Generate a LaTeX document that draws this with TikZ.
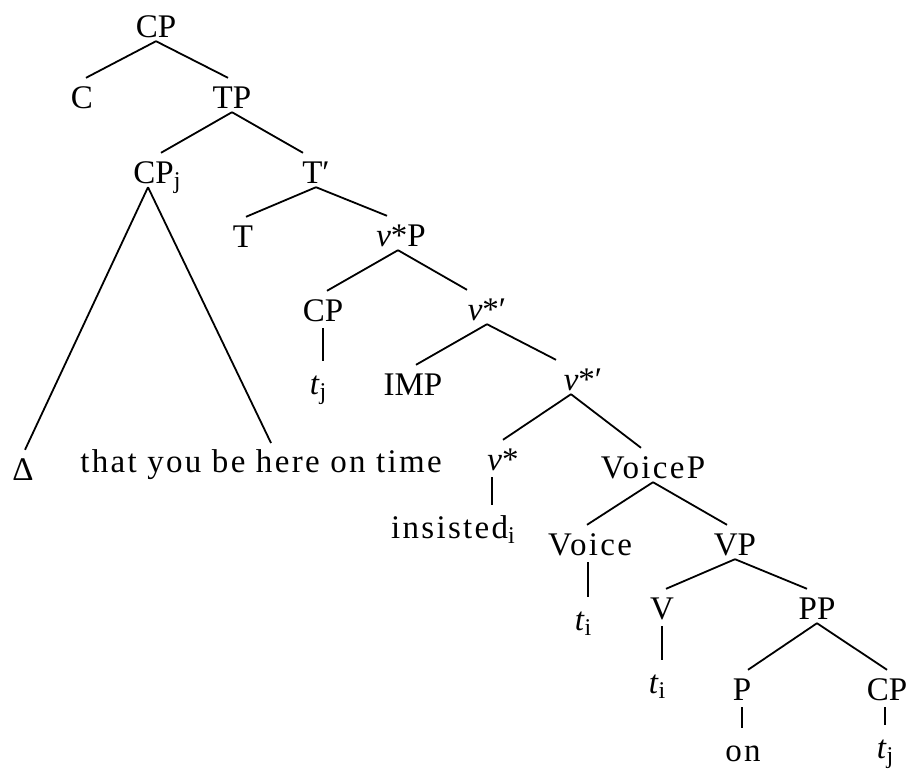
\documentclass[tikz,border=0pt]{standalone}
\usepackage{fontspec}
\setmainfont{Liberation Serif}
\newfontfamily\spacedfont[LetterSpace=7]{Liberation Serif}
\newcommand\lsub[1]{\raisebox{-5pt}{\fontsize{24}{24}\selectfont #1}}

\begin{document}
\begin{tikzpicture}[x=1pt,y=-1pt,font=\fontsize{33}{38}\selectfont,
 cat/.style={anchor=base,inner xsep=0pt,inner ysep=4pt,text height=26pt,text depth=0pt},
 word/.style={cat,font=\fontsize{33}{38}\selectfont\spacedfont},
 branch/.style={line width=1.8pt},
 unary/.style={line width=1.8pt,shorten <=3pt,shorten >=3pt}]
\useasboundingbox (0,0) rectangle (910,769);
% nodes, top to bottom
\node[cat] (cp) at (156,37) {CP};
\node[cat] (c) at (82,108) {C};
\node[cat] (tp) at (232,108) {TP};
\node[cat] (cpj) at (157,183) {CP\lsub{j}};
\node[cat] (tbar) at (316,183) {T′};
\node[cat] (t) at (243,247) {T};
\node[cat] (vstarp) at (401,246) {\textit{v}*P};
\node[cat] (cpmid) at (323,321) {CP};
\node[cat] (vbarA) at (487,320) {\textit{v}*′};
\node[cat] (tjA) at (318,394) {\textit{t}\lsub{j}};
\node[cat] (imp) at (413,395) {IMP};
\node[cat] (vbarB) at (583,390) {\textit{v}*′};
\node[cat] (delta) at (23,480) {Δ};
\node[word] (that) at (261,472) {that you be here on time};
\node[cat] (vstar) at (503,470) {\textit{v}*};
\node[word] (voicep) at (653,478) {VoiceP};
\node[word] (insisted) at (453,538) {insisted\lsub{i}};
\node[word] (voice) at (590,555) {Voice};
\node[cat] (vp) at (735,555) {VP};
\node[cat] (tiA) at (583,630) {\textit{t}\lsub{i}};
\node[cat] (v) at (662,619) {V};
\node[cat] (pp) at (817,619) {PP};
\node[cat] (tiB) at (657,693) {\textit{t}\lsub{i}};
\node[cat] (p) at (742,700) {P};
\node[cat] (cpbot) at (887,700) {CP};
\node[word] (on) at (743,761) {on};
\node[cat] (tjB) at (885,758) {\textit{t}\lsub{j}};
\coordinate (tri) at (271,443);
% branches
\draw[branch] (cp.south) -- ([xshift=4pt]c.north);
\draw[branch] (cp.south) -- ([xshift=-4pt]tp.north);
\draw[branch] (tp.south) -- ([xshift=4pt]cpj.north);
\draw[branch] (tp.south) -- ([xshift=-13pt]tbar.north);
\draw[branch] (tbar.south) -- ([xshift=3pt]t.north);
\draw[branch] (tbar.south) -- ([xshift=-14pt]vstarp.north);
\draw[branch] ([xshift=-3pt]vstarp.south) -- ([xshift=4pt]cpmid.north);
\draw[branch] ([xshift=-3pt]vstarp.south) -- ([xshift=-20pt]vbarA.north);
\draw[branch] (vbarA.south) -- ([xshift=3pt]imp.north);
\draw[branch] (vbarA.south) -- ([xshift=-27pt]vbarB.north);
\draw[branch] ([xshift=-12pt]vbarB.south) -- (vstar.north);
\draw[branch] ([xshift=-12pt]vbarB.south) -- ([xshift=-12pt]voicep.north);
\draw[branch] (voicep.south) -- ([xshift=-3pt]voice.north);
\draw[branch] (voicep.south) -- ([xshift=-8pt]vp.north);
\draw[branch] (vp.south) -- ([xshift=4pt]v.north);
\draw[branch] (vp.south) -- ([xshift=-10pt]pp.north);
\draw[branch] (pp.south) -- ([xshift=6pt]p.north);
\draw[branch] (pp.south) -- (cpbot.north);
% triangle over the embedded clause
\draw[branch] ([xshift=-9pt]cpj.south) -- ([xshift=2pt]delta.north);
\draw[branch] ([xshift=-9pt]cpj.south) -- (tri);
% unary lines
\draw[unary] (cpmid.south) -- (cpmid.south |- tjA.north);
\draw[unary] ([xshift=-11pt]vstar.south) -- ([xshift=-11pt]vstar.south |- insisted.north);
\draw[unary] ([xshift=-2pt]voice.south) -- ([xshift=-2pt]voice.south |- tiA.north);
\draw[unary] (v.south) -- (v.south |- tiB.north);
\draw[unary] (p.south) -- (p.south |- on.north);
\draw[unary] ([xshift=-2pt]cpbot.south) -- ([xshift=-2pt]cpbot.south |- tjB.north);
\end{tikzpicture}
\end{document}
